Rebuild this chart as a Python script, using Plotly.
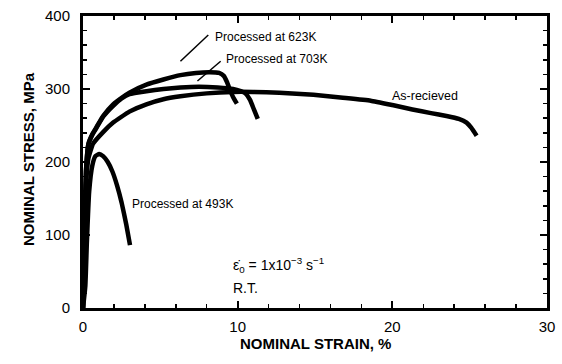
import plotly.graph_objects as go

# Nominal strain (%) / nominal stress (MPa)
asrec_x = [0, 0.1, 0.2, 0.35, 0.65, 1.3, 1.95, 3.0, 4.1, 5.2, 6.3, 8.0, 9.7, 11.0, 12.7, 14.9, 16.8, 18.6, 20.0, 21.3, 22.5, 23.5, 24.3, 24.8, 25.1, 25.45]
asrec_y = [0, 100, 170, 205, 225, 241, 254, 269, 279, 286, 290, 294, 296, 296, 295, 292, 288, 284, 278, 272, 267, 263, 259, 254, 247, 236]

p623_x = [0, 0.1, 0.2, 0.35, 0.6, 0.88, 1.3, 1.95, 2.5, 3.0, 4.1, 5.2, 6.3, 7.3, 8.2, 8.8, 9.1, 9.3, 9.5, 9.7, 9.95]
p623_y = [0, 110, 190, 225, 238, 248, 263, 279, 288, 295, 306, 313, 319, 322, 323, 322, 318, 310, 299, 289, 280]

p703_x = [0, 0.1, 0.2, 0.35, 0.6, 0.88, 1.3, 1.95, 2.5, 3.0, 4.1, 5.2, 6.3, 7.5, 8.7, 9.7, 10.2, 10.5, 10.8, 11.05, 11.3]
p703_y = [0, 110, 190, 224, 237, 247, 262, 277, 287, 293, 297, 300, 302, 303, 302, 300, 297, 294, 285, 272, 259]

p493_x = [0, 0.15, 0.25, 0.4, 0.6, 0.8, 1.05, 1.3, 1.6, 1.9, 2.2, 2.5, 2.8, 3.04]
p493_y = [0, 30, 90, 160, 195, 208, 211, 208, 200, 187, 168, 144, 114, 86]

series = [(asrec_x, asrec_y), (p623_x, p623_y), (p703_x, p703_y), (p493_x, p493_y)]

FONT = "Liberation Sans, Arial, Helvetica, sans-serif"

fig = go.Figure()
for xs, ys in series:
    fig.add_trace(go.Scatter(x=xs, y=ys, mode="lines",
                             line=dict(color="black", width=4.5, shape="spline", smoothing=0.4),
                             showlegend=False, hoverinfo="skip"))

# pointer lines
for (x0, y0, x1, y1) in [(6.3, 338, 8.1, 374), (7.4, 311, 8.9, 338)]:
    fig.add_shape(type="line", x0=x0, y0=y0, x1=x1, y1=y1, xref="x", yref="y",
                  line=dict(color="black", width=1.5))

labels = [
    (8.4, 371, "Processed at 623K", 12),
    (9.1, 341, "Processed at 703K", 12),
    (19.85, 291, "As-recieved", 12.5),
    (3.04, 143, "Processed at 493K", 12),
    (9.6, 59, "ε̇<sub>0</sub> = 1x10<sup>−3</sup> s<sup>−1</sup>", 14),
    (9.6, 27, "R.T.", 14),
]
for x, y, t, s in labels:
    fig.add_annotation(x=x, y=y, text=t, showarrow=False, xanchor="left", yanchor="middle",
                       font=dict(family=FONT, size=s, color="black"))

# axis titles
fig.add_annotation(x=0.5, y=-35 / 292, xref="paper", yref="paper", text="<b>NOMINAL STRAIN, %</b>",
                   showarrow=False, xanchor="center", yanchor="middle",
                   font=dict(family=FONT, size=15, color="black"))
fig.add_annotation(x=-55 / 464, y=0.51, xref="paper", yref="paper", text="<b>NOMINAL STRESS, MPa</b>",
                   showarrow=False, xanchor="center", yanchor="middle", textangle=-90,
                   font=dict(family=FONT, size=15, color="black"))

axis_common = dict(showgrid=False, zeroline=False, showline=True, linecolor="black", linewidth=3,
                   mirror="ticks", ticks="inside", ticklen=7, tickwidth=2, tickcolor="black",
                   automargin=False,
                   tickfont=dict(family=FONT, size=15, color="black"))

fig.update_xaxes(range=[0, 30], tickvals=[0, 10, 20, 30], ticklabelstandoff=3,
                 minor=dict(dtick=2, ticks="inside", ticklen=4, tickwidth=1.5, tickcolor="black"),
                 **axis_common)
fig.update_yaxes(range=[0, 400], tickvals=[0, 100, 200, 300, 400], ticklabelstandoff=7,
                 minor=dict(dtick=20, ticks="inside", ticklen=4, tickwidth=1.5, tickcolor="black"),
                 **axis_common)

fig.update_layout(width=562, height=364, margin=dict(l=83, r=15, t=16, b=56),
                  plot_bgcolor="white", paper_bgcolor="white")

fig.write_html("out.html", config={"displayModeBar": False, "staticPlot": True},
               post_script="document.body.style.margin='0';document.body.style.overflow='hidden';")
